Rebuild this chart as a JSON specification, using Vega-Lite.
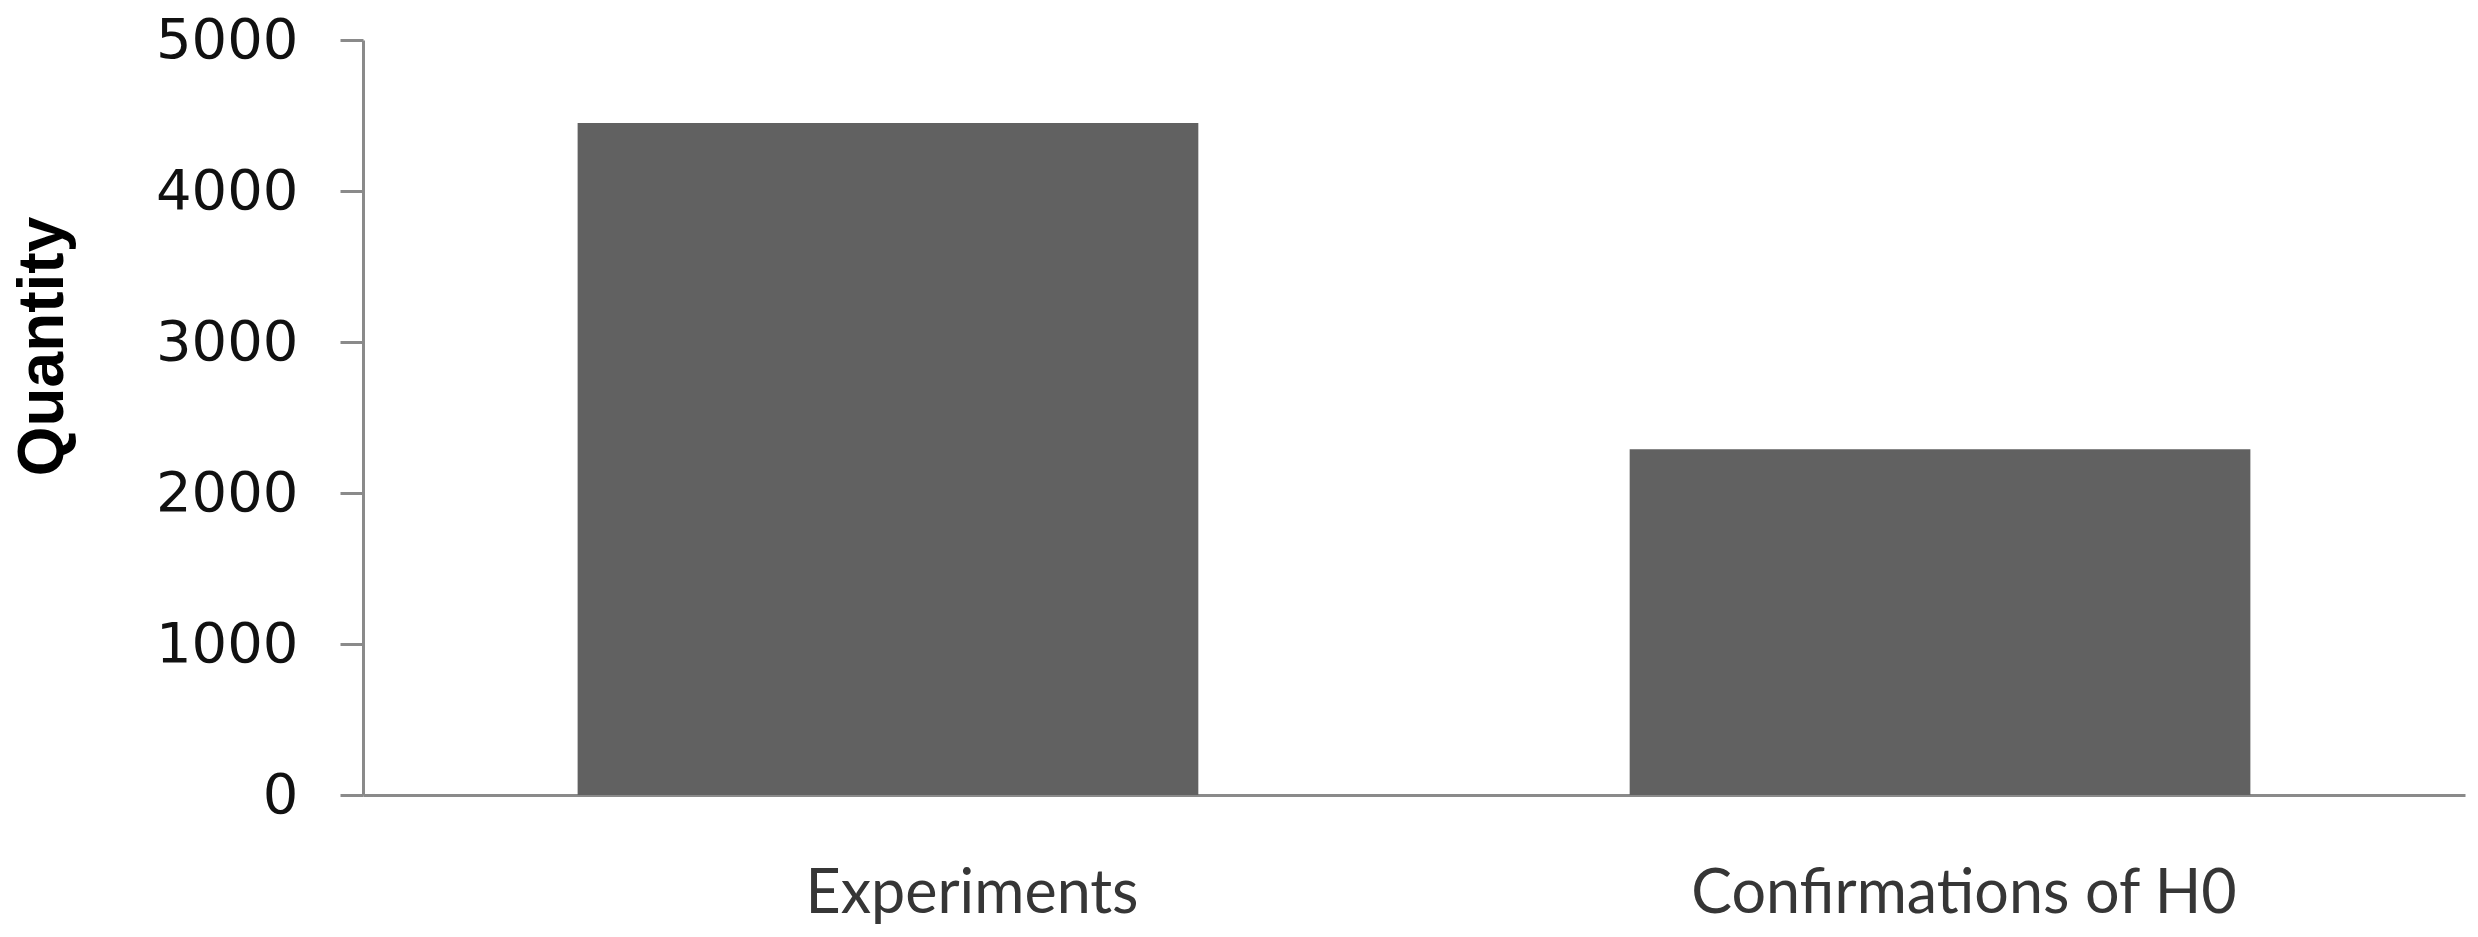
{
  "$schema": "https://vega.github.io/schema/vega-lite/v6.json",
  "width": 2102,
  "height": 755,
  "autosize": {"type": "none"},
  "padding": {"left": 363, "top": 40, "right": 13, "bottom": 142},
  "background": "white",
  "config": {"view": {"stroke": null}},
  "data": {
    "values": [
      {"category": "Experiments", "quantity": 4450},
      {"category": "Confirmations of H0", "quantity": 2290}
    ]
  },
  "mark": {"type": "bar", "color": "#616161"},
  "encoding": {
    "x": {
      "field": "category",
      "type": "nominal",
      "sort": null,
      "scale": {"paddingInner": 0.41, "paddingOuter": 0.204},
      "axis": {
        "title": null,
        "labelAngle": 0,
        "labelLimit": 0,
        "ticks": false,
        "tickSize": 0,
        "domainColor": "#8a8a8a",
        "domainWidth": 3,
        "labelFont": "Lato",
        "labelFontSize": 61,
        "labelColor": "#363636",
        "labelBaseline": "alphabetic",
        "labelPadding": 117,
        "labelOffset": {"condition": {"test": "datum.value === 'Experiments'", "value": 84}, "value": 24}
      }
    },
    "y": {
      "field": "quantity",
      "type": "quantitative",
      "scale": {"domain": [0, 5000], "nice": false},
      "axis": {
        "title": "Quantity",
        "grid": false,
        "format": "d",
        "values": [0, 1000, 2000, 3000, 4000, 5000],
        "domainColor": "#8a8a8a",
        "domainWidth": 3,
        "tickColor": "#8a8a8a",
        "tickWidth": 3,
        "tickSize": 23,
        "labelFont": "DejaVu Sans",
        "labelFontSize": 56,
        "labelColor": "#111111",
        "labelPadding": 42,
        "labelBaseline": "middle",
        "titleFont": "Liberation Sans",
        "titleFontWeight": "bold",
        "titleFontSize": 64,
        "titleColor": "#000000",
        "titleAngle": -90,
        "titleAlign": "center",
        "titleBaseline": "alphabetic",
        "titleX": -301,
        "titleY": 306
      }
    }
  }
}
